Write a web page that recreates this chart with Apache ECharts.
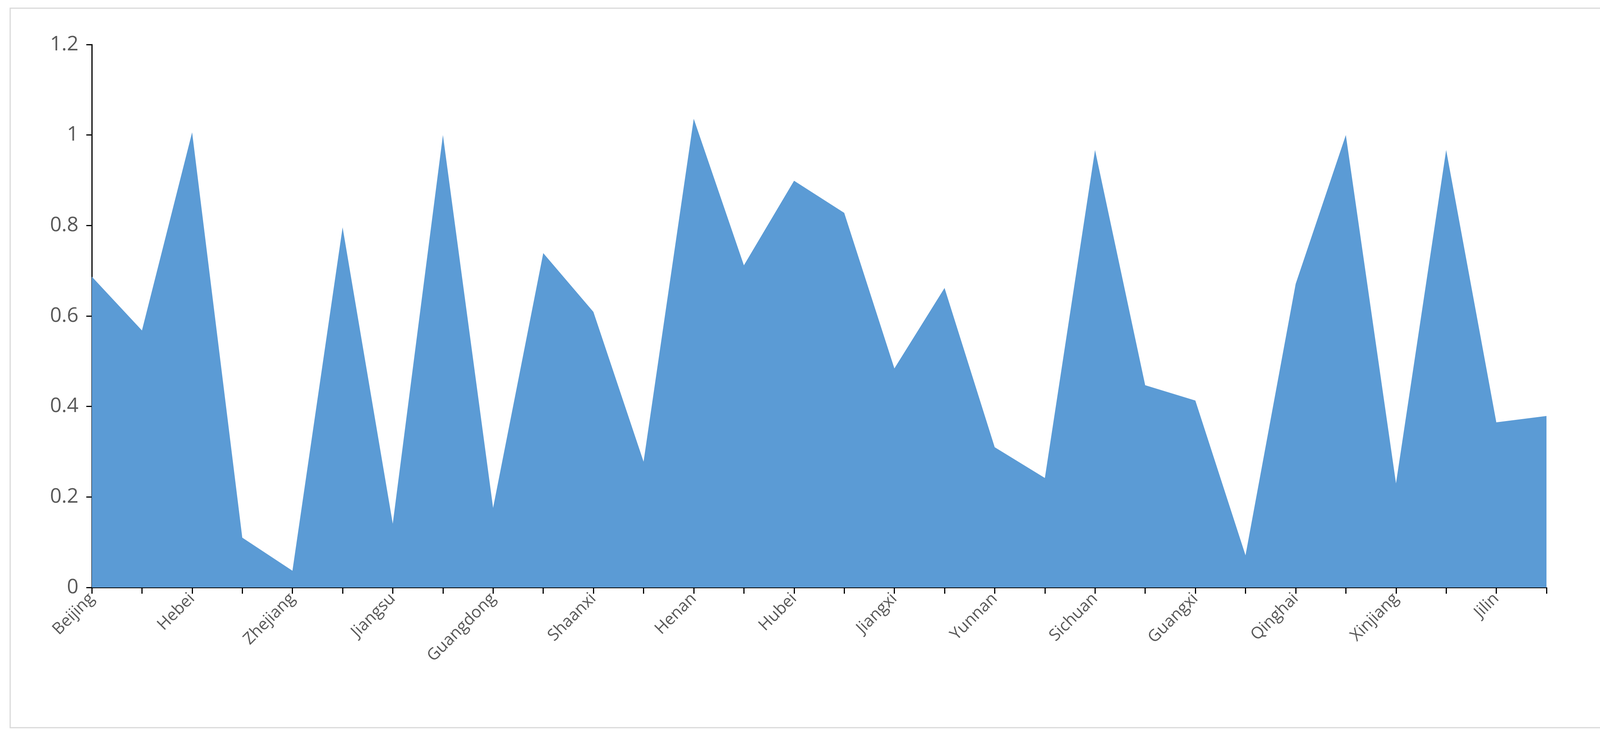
<!DOCTYPE html>
<html><head><meta charset="utf-8">
<script src="https://cdn.jsdelivr.net/npm/echarts@6/dist/echarts.min.js"></script>
<style>html,body{margin:0;padding:0;background:#fff}#c{width:4145px;height:1892px}</style>
</head><body><div id="c"></div>
<script>
const categories = ["Beijing","Tianjin","Hebei","Shanghai","Zhejiang","Fujian","Jiangsu","Shandong","Guangdong","Shanxi","Shaanxi","Anhui","Henan","Hunan","Hubei","Chongqing","Jiangxi","Guizhou","Yunnan","Hainan","Sichuan","Gansu","Guangxi","Ningxia","Qinghai","Inner Mongolia","Xinjiang","Liaoning","Jilin","Heilongjiang"];
const values = [0.687,0.568,1.006,0.11,0.037,0.796,0.141,1.0,0.176,0.739,0.609,0.278,1.036,0.712,0.899,0.828,0.484,0.662,0.31,0.242,0.967,0.447,0.413,0.071,0.671,1.0,0.23,0.967,0.365,0.379];
const yTicks = [0,0.2,0.4,0.6,0.8,1,1.2];
const chart = echarts.init(document.getElementById('c'));
chart.setOption({
  animation:false,
  graphic:[{type:'rect',shape:{x:26,y:21,width:4092,height:1842},style:{fill:'none',stroke:'#d9d9d9',lineWidth:3}}],
  grid:{left:235,right:186,top:114,bottom:388},
  xAxis:{type:'category',data:categories,boundaryGap:false,
    axisLine:{lineStyle:{color:'#000',width:3}},
    axisTick:{show:true,interval:0,length:16,lineStyle:{color:'#000',width:3}},
    axisLabel:{interval:1,rotate:45,fontSize:42,color:'#595959',fontFamily:'Open Sans',margin:22}},
  yAxis:{type:'value',min:0,max:1.2,interval:0.2,
    splitLine:{show:false},
    axisLine:{show:true,lineStyle:{color:'#000',width:3}},
    axisTick:{show:true,inside:false,length:14,lineStyle:{color:'#000',width:3}},
    axisLabel:{fontSize:52,color:'#595959',fontFamily:'Open Sans',margin:34,
      formatter:v=>{const t=yTicks.find(x=>Math.abs(x-v)<1e-9);return t===undefined?'':String(t);}}},
  series:[{type:'line',data:values,symbol:'none',lineStyle:{width:0},areaStyle:{color:'#5b9bd5',opacity:1}}]
});
</script></body></html>
